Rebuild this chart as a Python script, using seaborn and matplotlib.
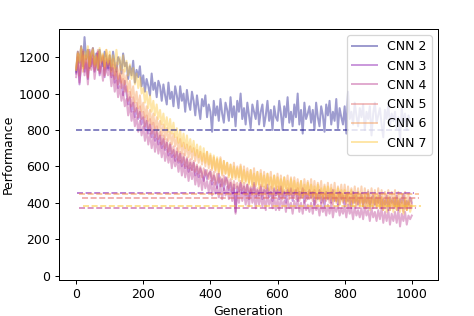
import numpy as np
import pandas as pd
import matplotlib
matplotlib.use("Agg")
import matplotlib.pyplot as plt
import seaborn as sns

generation = list(range(0, 1001, 5))

cnn2 = [1120, 1230, 1170, 1260, 1150, 1310, 1190, 1240, 1140, 1210,
        1250, 1160, 1220, 1130, 1240, 1180, 1150, 1230, 1200, 1140,
        1210, 1130, 1230, 1160, 1120, 1200, 1180, 1110, 1220, 1150,
        1170, 1080, 1150, 1100, 1180, 1060, 1130, 1090, 1150, 1040,
        1100, 1010, 1080, 1040, 990, 1110, 1020, 1060, 980, 1070,
        1040, 960, 1050, 990, 940, 1060, 970, 1010, 930, 1040,
        990, 920, 1040, 960, 1000, 900, 1020, 950, 910, 1010,
        960, 880, 990, 920, 860, 970, 930, 990, 870, 940,
        900, 790, 960, 880, 930, 850, 970, 890, 840, 950,
        910, 850, 980, 870, 930, 820, 960, 900, 1000, 860,
        920, 830, 950, 880, 810, 940, 900, 860, 960, 830,
        900, 940, 820, 880, 960, 850, 910, 800, 930, 870,
        850, 960, 890, 800, 930, 870, 980, 840, 900, 820,
        940, 870, 1000, 830, 910, 780, 950, 860, 890, 930,
        840, 910, 800, 950, 870, 820, 930, 880, 790, 940,
        880, 960, 830, 900, 850, 970, 810, 920, 870, 830,
        930, 780, 1010, 860, 900, 830, 950, 880, 820, 920,
        870, 940, 800, 900, 860, 930, 770, 890, 950, 840,
        880, 920, 830, 760, 910, 860, 940, 820, 890, 850,
        900, 810, 870, 740, 920, 840, 890, 800, 880, 850,
        840]
cnn3 = [1110, 1200, 1050, 1170, 1230, 1120, 1190, 1080, 1240, 1150,
        1210, 1120, 1180, 1230, 1100, 1160, 1200, 1090, 1170, 1130,
        1180, 1090, 1140, 1060, 1120, 1030, 1100, 1050, 990, 1070,
        1000, 940, 980, 900, 950, 870, 920, 860, 900, 830,
        870, 800, 850, 780, 830, 760, 800, 740, 790, 720,
        770, 700, 750, 690, 730, 660, 720, 650, 690, 630,
        680, 620, 670, 600, 650, 590, 640, 570, 620, 580,
        620, 550, 600, 540, 590, 560, 520, 580, 530, 560,
        570, 500, 550, 520, 480, 560, 490, 530, 470, 540,
        520, 470, 510, 450, 500, 350, 490, 460, 510, 450,
        490, 440, 500, 420, 480, 450, 510, 430, 470, 440,
        490, 420, 470, 450, 500, 430, 460, 410, 480, 440,
        470, 420, 490, 430, 460, 400, 470, 440, 480, 410,
        450, 470, 410, 460, 430, 480, 400, 450, 420, 470,
        430, 460, 390, 450, 420, 470, 400, 440, 380, 460,
        420, 450, 400, 470, 410, 430, 390, 460, 420, 440,
        380, 450, 410, 430, 370, 460, 400, 440, 390, 420,
        450, 380, 430, 400, 460, 370, 420, 440, 390, 430,
        400, 450, 370, 420, 390, 440, 360, 430, 400, 420,
        380, 440, 360, 420, 400, 450, 370, 410, 390, 430,
        400]
cnn4 = [1090, 1180, 1060, 1150, 1210, 1100, 1170, 1050, 1200, 1130,
        1190, 1080, 1160, 1220, 1110, 1150, 1070, 1180, 1130, 1100,
        1140, 1040, 1100, 1010, 1070, 980, 1040, 960, 1010, 930,
        970, 880, 940, 850, 900, 820, 870, 790, 850, 770,
        820, 740, 800, 720, 780, 700, 760, 680, 750, 670,
        730, 650, 710, 630, 690, 620, 670, 590, 660, 600,
        640, 570, 630, 550, 610, 540, 600, 520, 590, 530,
        580, 500, 560, 490, 550, 470, 540, 480, 520, 460,
        520, 440, 510, 450, 490, 430, 500, 420, 480, 440,
        490, 420, 470, 410, 480, 340, 460, 400, 470, 410,
        460, 390, 450, 380, 470, 400, 440, 370, 450, 390,
        440, 380, 430, 360, 450, 390, 420, 370, 440, 360,
        420, 360, 430, 380, 410, 350, 420, 370, 400, 340,
        410, 370, 420, 350, 400, 340, 410, 360, 390, 350,
        400, 340, 410, 360, 390, 330, 400, 350, 380, 330,
        390, 340, 400, 320, 380, 350, 390, 330, 370, 340,
        380, 320, 390, 340, 370, 310, 380, 330, 360, 320,
        370, 310, 380, 330, 360, 300, 370, 320, 350, 300,
        360, 310, 370, 290, 350, 300, 360, 280, 340, 300,
        350, 290, 360, 270, 340, 300, 350, 280, 330, 310,
        330]
cnn5 = [1130, 1220, 1100, 1190, 1240, 1140, 1210, 1090, 1230, 1160,
        1220, 1130, 1190, 1240, 1120, 1180, 1210, 1100, 1190, 1150,
        1190, 1100, 1160, 1080, 1140, 1050, 1110, 1030, 1080, 1010,
        1040, 960, 1010, 930, 980, 900, 950, 870, 930, 860,
        900, 820, 880, 800, 860, 780, 840, 760, 820, 750,
        790, 720, 770, 700, 750, 680, 730, 670, 710, 650,
        700, 630, 680, 620, 670, 600, 650, 590, 640, 580,
        630, 570, 610, 560, 600, 540, 590, 550, 580, 530,
        580, 520, 570, 500, 560, 510, 540, 490, 550, 500,
        540, 480, 530, 470, 520, 480, 510, 460, 520, 470,
        510, 450, 500, 460, 490, 440, 500, 450, 480, 440,
        500, 440, 490, 430, 480, 450, 490, 430, 470, 440,
        490, 430, 480, 420, 470, 440, 480, 420, 470, 430,
        470, 420, 480, 410, 460, 430, 470, 410, 460, 420,
        460, 410, 470, 400, 450, 420, 460, 400, 450, 410,
        450, 400, 460, 390, 440, 410, 450, 390, 440, 400,
        440, 390, 450, 380, 430, 400, 440, 380, 430, 390,
        430, 380, 440, 370, 420, 390, 430, 370, 420, 380,
        420, 370, 430, 360, 410, 380, 420, 360, 410, 370,
        420, 360, 410, 370, 400, 350, 410, 360, 400, 370,
        390]
cnn6 = [1140, 1230, 1180, 1260, 1120, 1210, 1170, 1240, 1130, 1220,
        1250, 1150, 1200, 1130, 1230, 1170, 1210, 1140, 1240, 1160,
        1210, 1120, 1190, 1100, 1170, 1080, 1150, 1060, 1130, 1050,
        1100, 1010, 1070, 980, 1040, 950, 1010, 920, 990, 900,
        950, 870, 930, 850, 910, 830, 890, 810, 870, 800,
        850, 770, 830, 750, 810, 740, 790, 720, 780, 710,
        760, 680, 750, 670, 730, 660, 720, 650, 710, 640,
        700, 630, 690, 620, 680, 610, 670, 600, 680, 590,
        660, 580, 650, 570, 640, 560, 650, 550, 630, 560,
        620, 550, 610, 540, 620, 530, 600, 540, 610, 520,
        600, 520, 590, 510, 580, 500, 590, 490, 570, 500,
        580, 490, 570, 480, 560, 500, 570, 470, 550, 480,
        560, 470, 550, 460, 540, 480, 550, 450, 540, 460,
        540, 450, 530, 460, 520, 440, 530, 450, 520, 440,
        530, 440, 520, 430, 510, 450, 520, 420, 500, 430,
        510, 430, 500, 420, 510, 410, 490, 430, 500, 420,
        500, 410, 490, 420, 480, 400, 490, 410, 480, 400,
        490, 400, 480, 410, 470, 390, 480, 400, 470, 390,
        480, 390, 470, 380, 460, 400, 470, 380, 460, 390,
        470, 380, 460, 370, 450, 390, 460, 360, 450, 380,
        420]
cnn7 = [1130, 1220, 1170, 1250, 1140, 1230, 1190, 1260, 1150, 1220,
        1240, 1160, 1210, 1140, 1250, 1180, 1220, 1150, 1240, 1170,
        1230, 1150, 1210, 1140, 1240, 1160, 1200, 1130, 1210, 1120,
        1180, 1100, 1160, 1080, 1140, 1050, 1110, 1030, 1090, 1000,
        1030, 950, 1010, 920, 990, 900, 960, 880, 940, 860,
        910, 830, 890, 810, 870, 790, 860, 780, 840, 760,
        810, 730, 800, 710, 780, 700, 770, 690, 750, 680,
        740, 660, 720, 650, 710, 630, 700, 620, 680, 610,
        670, 590, 660, 580, 650, 570, 640, 560, 630, 560,
        620, 540, 610, 530, 600, 540, 590, 520, 600, 510,
        580, 510, 570, 500, 580, 490, 560, 500, 570, 480,
        560, 490, 550, 480, 560, 470, 540, 480, 550, 470,
        540, 470, 530, 460, 540, 450, 520, 460, 530, 450,
        520, 450, 510, 440, 520, 430, 500, 450, 510, 440,
        500, 430, 490, 420, 500, 410, 480, 430, 490, 420,
        490, 420, 480, 410, 470, 400, 480, 390, 470, 410,
        470, 400, 460, 390, 470, 380, 450, 390, 460, 380,
        450, 380, 440, 370, 450, 360, 430, 380, 440, 370,
        440, 370, 430, 360, 420, 350, 430, 360, 420, 350,
        430, 360, 420, 350, 410, 340, 420, 360, 410, 350,
        380]

labels = ["CNN 2", "CNN 3", "CNN 4", "CNN 5", "CNN 6", "CNN 7"]
series = [cnn2, cnn3, cnn4, cnn5, cnn6, cnn7]

# dashed reference levels and their x extents
ref_level = [799, 452, 370, 424, 447, 384]
ref_start = [0, 2, 8, 17, 10, 20]
ref_end = [1000, 1006, 1013, 1020, 1020, 1027]

cmap = plt.get_cmap("plasma")
colors = [cmap(p) for p in [0.0, 0.25, 0.42, 0.6, 0.74, 0.87]]

fig, ax = plt.subplots(figsize=(474 / 90, 316 / 90), dpi=90)
fig.subplots_adjust(left=0.1245, right=0.924, top=0.908, bottom=0.115)

for lab, vals, c in zip(labels, series, colors):
    df = pd.DataFrame({"Generation": generation, "Performance": vals})
    sns.lineplot(data=df, x="Generation", y="Performance", color=c,
                 alpha=0.4, lw=1.6, label=lab, ax=ax)

for lvl, x0, x1, c in zip(ref_level, ref_start, ref_end, colors):
    ax.plot([x0, x1], [lvl, lvl], ls="--", color=c, alpha=0.6, lw=1.3)

ax.set_xlim(-51, 1078)
ax.set_ylim(-22, 1354)
ax.set_xticks([0, 200, 400, 600, 800, 1000])
ax.set_yticks([0, 200, 400, 600, 800, 1000, 1200])
ax.set_xlabel("Generation", labelpad=2.5)
ax.set_ylabel("Performance", labelpad=3)
ax.legend(loc="upper right")

fig.savefig("out.png", dpi=90)
